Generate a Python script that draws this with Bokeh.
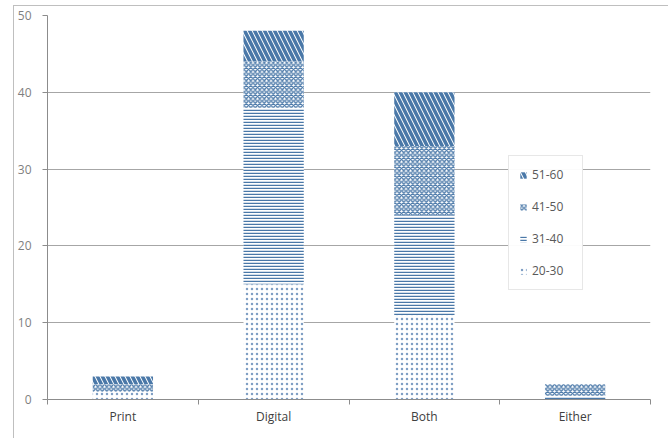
from bokeh.plotting import figure
from bokeh.models import Range1d, FixedTicker, ColumnDataSource, Legend, LegendItem
from bokeh.embed import file_html
from bokeh.resources import INLINE

categories = ["Print", "Digital", "Both", "Either"]
age_groups = ["20-30", "31-40", "41-50", "51-60"]
v_20_30 = [1, 15, 11, 0]
v_31_40 = [0, 23, 13, 0.5]
v_41_50 = [1, 6, 9, 1.5]
v_51_60 = [1, 4, 7, 0]
y_ticks = [0, 10, 20, 30, 40, 50]

x_centers = [i + 0.5 for i in range(len(categories))]
x_bounds = list(range(len(categories) + 1))

source = ColumnDataSource(data={
    "x": x_centers,
    "20-30": v_20_30,
    "31-40": v_31_40,
    "41-50": v_41_50,
    "51-60": v_51_60,
})

HATCH = "#4a78a8"
patterns = ["dot", "horizontal_line", "diagonal_cross", "left_diagonal_line"]
scales = [5.0, 3.0, 4.5, 10.0]
weights = [1.0, 1.5, 1.4, 3.5]
hcolors = ["#7f9fc4", HATCH, HATCH, HATCH]

p = figure(width=655, height=433, output_backend="svg", toolbar_location=None,
           x_range=Range1d(0, len(categories)), y_range=Range1d(0, 50),
           min_border_left=32, min_border_top=9, min_border_right=19, min_border_bottom=40)
p.styles = {"border-left": "1px solid #bfbfbf", "border-top": "1px solid #bfbfbf",
            "position": "relative", "left": "13px", "top": "5px"}

renderers = p.vbar_stack(age_groups, x="x", width=0.4, source=source,
                         fill_color="white", line_color=None,
                         hatch_pattern=patterns, hatch_scale=scales,
                         hatch_weight=weights, hatch_color=hcolors)

items = [LegendItem(label=g, renderers=[r]) for g, r in zip(age_groups, renderers)]
items.reverse()
legend = Legend(items=items, location=(461, 109), padding=10, spacing=15,
                glyph_width=8, glyph_height=8, label_height=12, label_width=40,
                label_standoff=5,
                label_text_font="Open Sans", label_text_font_size="12px",
                label_text_color="#595959", border_line_color="#d0d0d0",
                background_fill_color="white", margin=0)
p.add_layout(legend)

p.outline_line_color = None
p.xgrid.visible = False
p.ygrid.ticker = FixedTicker(ticks=y_ticks)
p.ygrid.grid_line_color = "#a6a6a6"

xa = p.xaxis[0]
xa.ticker = FixedTicker(ticks=x_centers, minor_ticks=x_bounds)
overrides = {}
for xc, c in zip(x_centers, categories):
    overrides[xc] = c
    overrides[str(xc)] = c
xa.major_label_overrides = overrides
xa.major_tick_line_color = None
xa.major_tick_out = 0
xa.major_tick_in = 0
xa.minor_tick_line_color = "#8c8c8c"
xa.minor_tick_out = 5
xa.minor_tick_in = 0
xa.major_label_standoff = 3
xa.major_label_text_color = "#404040"

ya = p.yaxis[0]
ya.ticker = FixedTicker(ticks=y_ticks)
ya.minor_tick_line_color = None
ya.major_tick_out = 5
ya.major_tick_in = 0
ya.major_tick_line_color = "#8c8c8c"
ya.major_label_standoff = 11
ya.major_label_text_color = "#7f7f7f"

for ax in (xa, ya):
    ax.axis_line_color = "#8c8c8c"
    ax.major_label_text_font = "Open Sans"
    ax.major_label_text_font_size = "12px"

open("out.html", "w").write(file_html(p, INLINE))
